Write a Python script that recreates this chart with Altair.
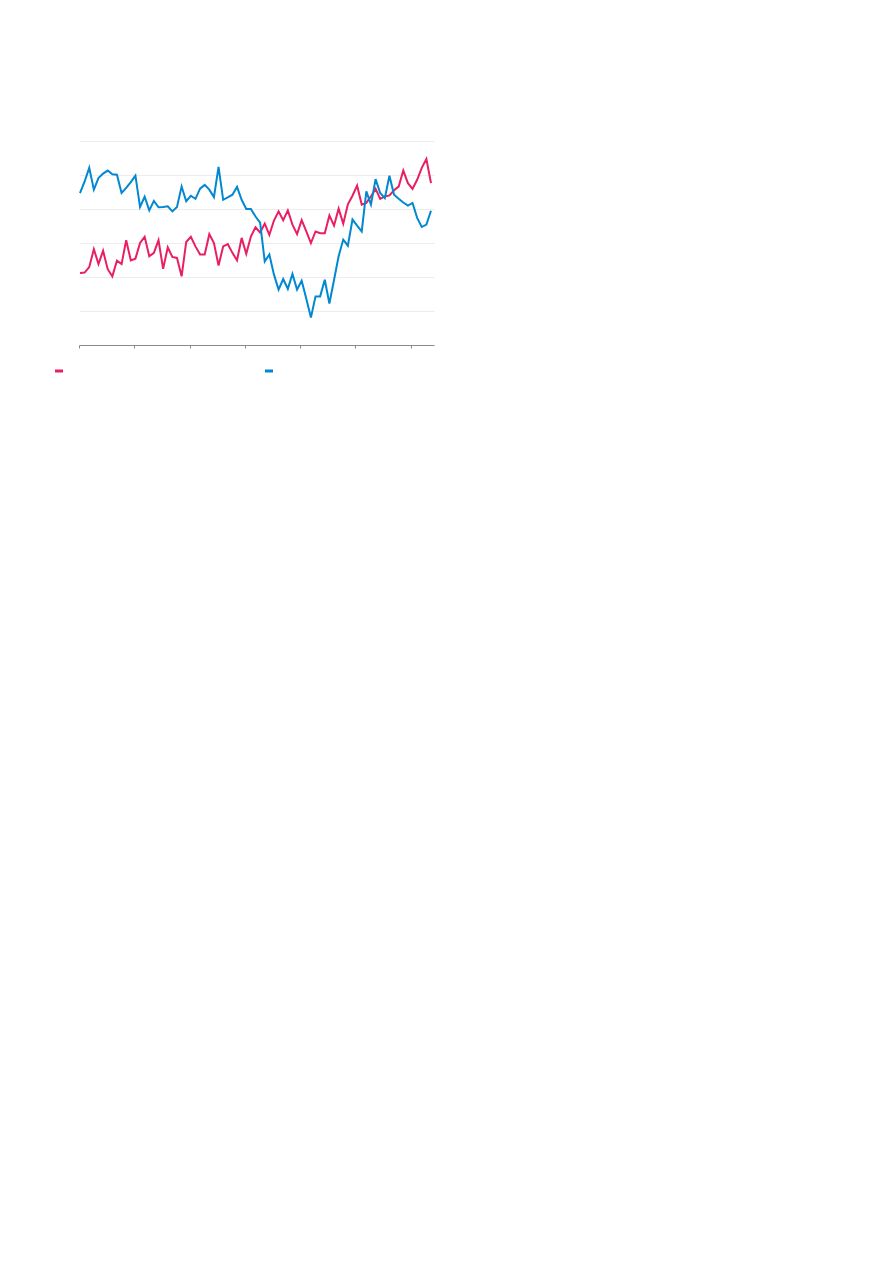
import altair as alt
import pandas as pd

# Monthly values (index 0..76)
pink = [21.2, 21.3, 22.9, 28.2, 23.8, 27.7, 22.3, 20.2, 24.8, 23.8,
        30.8, 24.9, 25.4, 30.0, 31.8, 26.1, 27.1, 30.8, 22.4, 28.7,
        25.9, 25.6, 20.2, 30.3, 31.8, 29.0, 26.6, 26.6, 32.6, 30.0,
        23.4, 29.0, 29.7, 27.1, 24.9, 31.5, 26.8, 31.9, 34.6, 33.1,
        35.7, 32.4, 36.6, 39.3, 36.7, 39.6, 35.4, 32.6, 36.7, 33.4,
        30.0, 33.4, 32.9, 32.9, 38.1, 35.1, 40.1, 35.7, 41.4, 43.9,
        46.9, 41.3, 41.8, 43.7, 45.9, 43.0, 43.7, 44.0, 45.5, 46.6,
        51.3, 47.6, 45.9, 48.6, 52.1, 54.7, 47.6]
blue = [44.7, 48.1, 52.1, 45.7, 49.1, 50.4, 51.3, 50.2, 50.1, 44.7,
        46.2, 47.9, 49.8, 40.6, 43.6, 39.6, 42.4, 40.5, 40.6, 40.8,
        39.3, 40.6, 46.6, 42.3, 43.9, 43.0, 46.0, 47.1, 45.7, 43.5,
        52.4, 42.7, 43.4, 44.2, 46.5, 42.7, 40.0, 40.0, 37.8, 36.0,
        24.6, 26.6, 20.7, 16.3, 19.4, 16.5, 20.9, 16.3, 18.9, 13.6,
        8.1, 14.3, 14.3, 19.2, 12.2, 19.1, 26.1, 31.0, 29.2, 36.9,
        35.1, 33.4, 45.2, 41.3, 48.8, 44.7, 43.2, 49.8, 44.2, 43.0,
        41.9, 41.0, 41.8, 37.4, 34.7, 35.4, 39.5]
series_names = ["Series A", "Series B"]
series_colors = ["#E91E63", "#0288D1"]
year_ticks = [-0.2165 + 11.97 * k for k in range(7)]

rows = []
for i, v in enumerate(pink):
    rows.append({"month": i, "value": v, "series": series_names[0]})
for i, v in enumerate(blue):
    rows.append({"month": i, "value": v, "series": series_names[1]})
df = pd.DataFrame(rows)

chart = alt.Chart(df).mark_line(strokeWidth=2).encode(
    x=alt.X("month:Q",
            scale=alt.Scale(domain=[-0.2165, 76.65], nice=False, zero=False),
            axis=alt.Axis(values=year_ticks, labels=False, title=None, grid=False,
                          domainColor="#8a8a8a", tickColor="#8a8a8a", tickSize=3,
                          domainWidth=1)),
    y=alt.Y("value:Q",
            scale=alt.Scale(domain=[0, 60], nice=False),
            axis=alt.Axis(values=[0, 10, 20, 30, 40, 50, 60], labels=False, title=None,
                          domain=False, ticks=False, gridColor="#ededed", gridWidth=1)),
    color=alt.Color("series:N",
                    scale=alt.Scale(domain=series_names, range=series_colors),
                    legend=alt.Legend(orient="none", direction="horizontal",
                                      legendX=-26, legendY=224, title=None,
                                      symbolType="stroke", symbolSize=64,
                                      symbolStrokeWidth=3, labelOpacity=0,
                                      labelFont="Roboto", labelFontSize=12,
                                      columnPadding=146)),
).properties(
    width=355, height=204,
    autosize=alt.AutoSizeParams(type="none"),
    padding={"left": 71, "top": 133, "right": 40, "bottom": 60},
).configure_view(stroke=None)

chart.save("out.html", embed_options={"renderer": "svg", "actions": False})
